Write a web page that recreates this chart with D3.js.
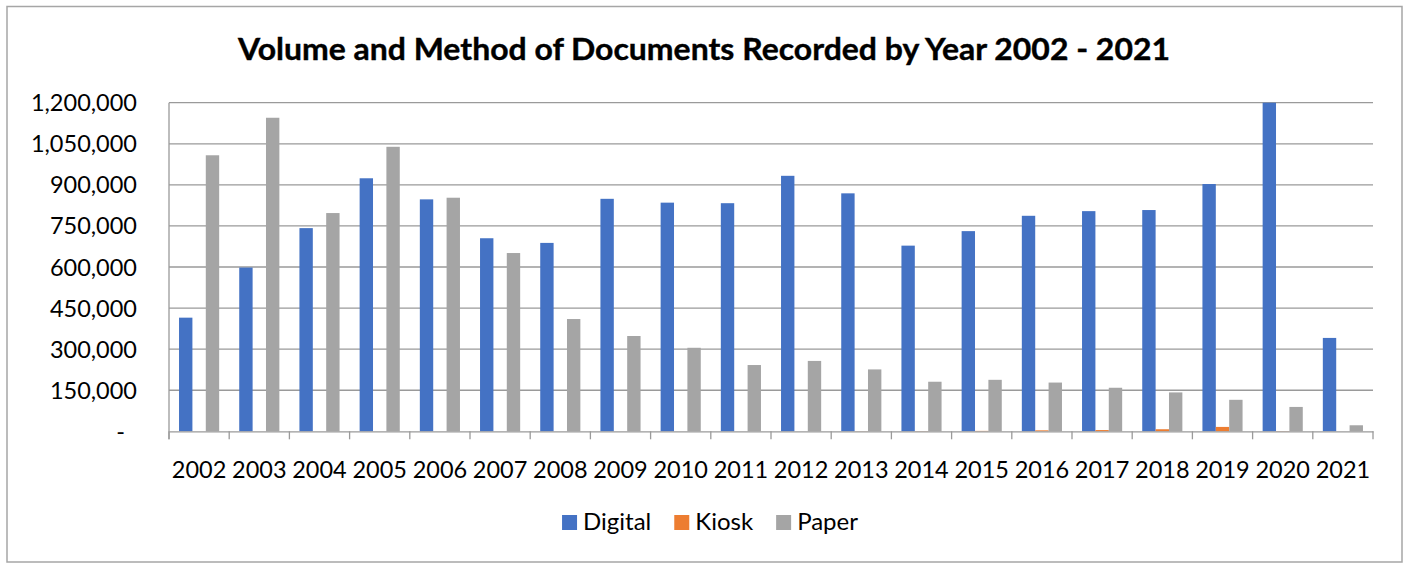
<!DOCTYPE html>
<html>
<head>
<meta charset="utf-8">
<script src="https://cdn.jsdelivr.net/npm/d3@7"></script>
<style>
  body { margin: 0; background: #fff; }
  svg { display: block; font-family: Lato, "Open Sans", sans-serif; }
</style>
</head>
<body>
<div id="chart"></div>
<script>
var years = ["2002","2003","2004","2005","2006","2007","2008","2009","2010","2011",
             "2012","2013","2014","2015","2016","2017","2018","2019","2020","2021"]
var digital = [415000, 598000, 742000, 924000, 847000, 705000, 688000, 849000, 835000, 833000,
               933000, 869000, 678000, 731000, 787000, 804000, 808000, 903000, 1200000, 341000]
var kiosk = [0, 0, 0, 0, 0, 0, 0, 0, 0, 0,
             0, 500, 800, 1500, 3500, 4500, 7500, 16000, 1000, 0]
var paper = [1008000, 1145000, 797000, 1039000, 853000, 651000, 410000, 348000, 305000, 242000,
             257000, 226000, 181000, 188000, 178000, 159000, 142000, 115000, 89000, 22000]
var seriesNames = ["Digital", "Kiosk", "Paper"]
var seriesColors = ["#4472C4", "#ED7D31", "#A5A5A5"]
var yTicks = [0, 150000, 300000, 450000, 600000, 750000, 900000, 1050000, 1200000]

var W = 1403, H = 563
var margin = {left: 169, right: 30, top: 102.7, bottom: 131.7}

var svg = d3.select("#chart").append("svg")
  .attr("width", W).attr("height", H)

// chart border
svg.append("rect")
  .attr("x", 7).attr("y", 6.5).attr("width", 1395).attr("height", 555.5)
  .attr("fill", "#fff").attr("stroke", "#a6a6a6").attr("stroke-width", 1.5)

svg.append("text")
  .attr("x", 704).attr("y", 59.5)
  .attr("text-anchor", "middle")
  .attr("font-weight", "bold").attr("font-size", 31)
  .attr("textLength", 932).attr("lengthAdjust", "spacingAndGlyphs")
  .attr("stroke", "#000").attr("stroke-width", 0.4)
  .attr("fill", "#000")
  .text("Volume and Method of Documents Recorded by Year 2002 - 2021")

var x = d3.scaleBand().domain(years)
  .range([margin.left, W - margin.right])
  .paddingInner(1/3).paddingOuter(1/6)
var xs = d3.scaleBand().domain(seriesNames).range([0, x.bandwidth()])
var y = d3.scaleLinear().domain([0, 1200000])
  .range([H - margin.bottom, margin.top]).clamp(true)

// gridlines
svg.append("g").selectAll("line")
  .data(yTicks.slice(1))
  .enter().append("line")
  .attr("x1", margin.left).attr("x2", W - margin.right)
  .attr("y1", function(d){ return y(d) }).attr("y2", function(d){ return y(d) })
  .attr("stroke", "#9a9a9a").attr("stroke-width", 1.3)

// y labels
var fmt = d3.format(",")
svg.append("g").selectAll("text")
  .data(yTicks)
  .enter().append("text")
  .attr("x", function(d){ return d == 0 ? 125 : 137 })
  .attr("y", function(d){ return y(d) + 8.5 })
  .attr("text-anchor", "end")
  .attr("font-size", 23.5).attr("fill", "#000")
  .text(function(d){ return d == 0 ? "-" : fmt(d) })

// bars
var rows = years.map(function(yr, i){
  return {year: yr, vals: [digital[i], kiosk[i], paper[i]]}
})
var groups = svg.append("g").selectAll("g")
  .data(rows)
  .enter().append("g")
  .attr("transform", function(d){ return "translate(" + x(d.year) + ",0)" })
groups.selectAll("rect")
  .data(function(d){ return d.vals.map(function(v, j){ return {s: seriesNames[j], v: v, c: seriesColors[j]} }) })
  .enter().append("rect")
  .attr("x", function(d){ return xs(d.s) })
  .attr("width", xs.bandwidth())
  .attr("y", function(d){ return y(d.v) })
  .attr("height", function(d){ return y(0) - y(d.v) })
  .attr("fill", function(d){ return d.c })

// x axis
var xAxis = svg.append("g")
  .attr("transform", "translate(0," + y(0) + ")")
  .call(d3.axisBottom(x).tickSize(0).tickPadding(30))
xAxis.select(".domain").attr("stroke", "#9a9a9a").attr("stroke-width", 1.3)
xAxis.selectAll("text").attr("font-size", 23.5).attr("fill", "#000").attr("font-family", "Lato")
xAxis.selectAll("line").remove()
var step = x.step()
var bounds = d3.range(years.length + 1).map(function(i){ return margin.left + i * step })
xAxis.selectAll(".bnd").data(bounds)
  .enter().append("line").attr("class", "bnd")
  .attr("x1", function(d){ return d }).attr("x2", function(d){ return d })
  .attr("y1", 0).attr("y2", 8)
  .attr("stroke", "#9a9a9a").attr("stroke-width", 1.3)
// left axis line
svg.append("line")
  .attr("x1", margin.left).attr("x2", margin.left)
  .attr("y1", margin.top).attr("y2", y(0) + 8)
  .attr("stroke", "#9a9a9a").attr("stroke-width", 1.3)

// legend
var leg = svg.append("g")
var lx = 0
seriesNames.forEach(function(n, i){
  var g = leg.append("g").attr("transform", "translate(" + lx + ",0)")
  g.append("rect").attr("x", 0).attr("y", 515).attr("width", 15).attr("height", 15)
    .attr("fill", seriesColors[i])
  var t = g.append("text").attr("x", 21).attr("y", 529.5)
    .attr("font-size", 24).attr("fill", "#000").text(n)
  lx += 21 + t.node().getComputedTextLength() + 23
})
var lw = lx - 23
leg.attr("transform", "translate(" + (710 - lw / 2) + ",0)")
</script>
</body>
</html>
